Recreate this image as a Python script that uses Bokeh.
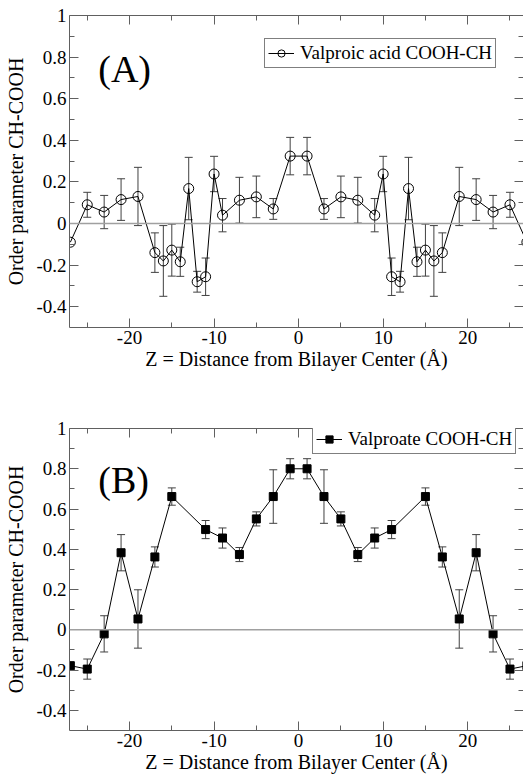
from bokeh.plotting import figure
from bokeh.models import (ColumnDataSource, Whisker, TeeHead, Span, Label, Legend, LegendItem,
                          LinearAxis, FixedTicker, PrintfTickFormatter, CustomJSTickFormatter,
                          Range1d)
from bokeh.layouts import column
from bokeh.embed import file_html
from bokeh.resources import INLINE

# ---------------- data ----------------
z_acid = [-27, -25, -23, -21, -19, -17, -16, -15, -14, -13, -12, -11, -10, -9, -7, -5, -3, -1,
          1, 3, 5, 7, 9, 10, 11, 12, 13, 14, 15, 16, 17, 19, 21, 23, 25, 27]
s_acid = [-0.09, 0.09, 0.055, 0.115, 0.13, -0.14, -0.18, -0.128, -0.184, 0.168, -0.28, -0.256,
          0.238, 0.04, 0.112, 0.128, 0.07, 0.324,
          0.324, 0.07, 0.128, 0.112, 0.04, 0.238, -0.256, -0.28, 0.168, -0.184, -0.128, -0.18,
          -0.14, 0.13, 0.115, 0.055, 0.09, -0.09]
e_acid = [0.0, 0.06, 0.08, 0.10, 0.14, 0.095, 0.17, 0.125, 0.07, 0.15, 0.05, 0.09,
          0.085, 0.08, 0.11, 0.10, 0.05, 0.09,
          0.09, 0.05, 0.10, 0.11, 0.08, 0.085, 0.09, 0.05, 0.15, 0.07, 0.125, 0.17,
          0.095, 0.14, 0.10, 0.08, 0.06, 0.0]

z_ion = [-27, -25, -23, -21, -19, -17, -15, -11, -9, -7, -5, -3, -1,
         1, 3, 5, 7, 9, 11, 15, 17, 19, 21, 23, 25, 27]
s_ion = [-0.178, -0.195, -0.02, 0.383, 0.054, 0.362, 0.662, 0.498, 0.456, 0.374, 0.551, 0.662, 0.80,
         0.80, 0.662, 0.551, 0.374, 0.456, 0.498, 0.662, 0.362, 0.054, 0.383, -0.02, -0.195, -0.178]
e_ion = [0.0, 0.05, 0.09, 0.09, 0.145, 0.05, 0.043, 0.045, 0.05, 0.035, 0.035, 0.133, 0.05,
         0.05, 0.133, 0.035, 0.035, 0.05, 0.045, 0.043, 0.05, 0.145, 0.09, 0.09, 0.05, 0.0]

x_ticks = [-20, -10, 0, 10, 20]
x_minor = [-25, -15, -5, 5, 15, 25]
y_ticks = [-0.4, -0.2, 0, 0.2, 0.4, 0.6, 0.8, 1]
y_minor = [-0.3, -0.1, 0.1, 0.3, 0.5, 0.7, 0.9]

x_title = "Z = Distance from Bilayer Center (Å)"
y_title = "Order parameter CH-COOH"

FONT = "Times New Roman"
AXC = "#606060"


def style_axis(ax, ticks, minor, labels=True):
    ax.ticker = FixedTicker(ticks=ticks, minor_ticks=minor)
    ax.major_tick_in = 9
    ax.major_tick_out = 0
    ax.minor_tick_in = 5
    ax.minor_tick_out = 0
    ax.axis_line_color = AXC
    ax.major_tick_line_color = AXC
    ax.minor_tick_line_color = AXC
    ax.major_label_text_font = FONT
    ax.major_label_text_color = "black"
    ax.axis_label_text_font = FONT
    ax.axis_label_text_font_style = "normal"
    ax.axis_label_text_color = "black"
    if labels:
        ax.formatter = PrintfTickFormatter(format="%g")
        ax.major_label_text_font_size = "19px"
        ax.axis_label_text_font_size = "20px"
        ax.major_label_standoff = 3
    else:
        ax.formatter = CustomJSTickFormatter(code="return ''")
        ax.major_label_text_font_size = "1px"
        ax.major_label_standoff = 0
        ax.axis_label = None


def panel(zs, vals, errs, label, tag, marker, height, btop, bbottom, legend_loc):
    p = figure(width=523, height=height, output_backend="svg", toolbar_location=None,
               x_range=Range1d(-27.1, 26.6), y_range=Range1d(-0.5, 1.0),
               min_border_left=69, min_border_right=0, min_border_top=btop,
               min_border_bottom=bbottom,
               x_axis_label=x_title, y_axis_label=y_title)
    p.grid.visible = False
    p.outline_line_color = None
    p.background_fill_color = "white"
    p.border_fill_color = "white"

    style_axis(p.xaxis[0], x_ticks, x_minor)
    style_axis(p.yaxis[0], y_ticks, y_minor)
    p.xaxis[0].axis_label_standoff = 1
    p.yaxis[0].axis_label_standoff = 6

    top = LinearAxis()
    style_axis(top, x_ticks, x_minor, labels=False)
    p.add_layout(top, "above")
    right = LinearAxis()
    style_axis(right, y_ticks, y_minor, labels=False)
    right.axis_line_alpha = 0
    p.add_layout(right, "right")

    p.add_layout(Span(location=0, dimension="width", line_color="#a0a0a0", line_width=1.5))

    idx = [i for i, e in enumerate(errs) if e > 0]
    esrc = ColumnDataSource(dict(z=[zs[i] for i in idx],
                                 lo=[vals[i] - errs[i] for i in idx],
                                 hi=[vals[i] + errs[i] for i in idx]))
    p.add_layout(Whisker(source=esrc, base="z", lower="lo", upper="hi",
                         line_color="#404040", line_width=1,
                         upper_head=TeeHead(size=8, line_color="#404040", line_width=1),
                         lower_head=TeeHead(size=8, line_color="#404040", line_width=1)))

    src = ColumnDataSource(dict(z=zs, v=vals))
    ln = p.line("z", "v", source=src, line_color="black", line_width=1)
    if marker == "circle":
        sc = p.scatter("z", "v", source=src, marker="circle", size=10, fill_color=None,
                       line_color="black", line_width=1)
    else:
        sc = p.scatter("z", "v", source=src, marker="square", size=8, fill_color="black",
                       line_color="black", line_width=1)

    lg = Legend(items=[LegendItem(label=label, renderers=[ln, sc])], location=legend_loc,
                label_text_font=FONT, label_text_font_size="19px", label_text_color="black",
                border_line_color="black", border_line_width=1, padding=3, spacing=0,
                margin=0, glyph_width=26, glyph_height=18, label_height=18, label_standoff=6,
                background_fill_color="white", background_fill_alpha=1)
    p.add_layout(lg)

    p.add_layout(Label(x=-23.7, y=0.745, text=tag, text_font=FONT, text_font_size="38px",
                       text_baseline="alphabetic", text_color="black"))
    return p


pa = panel(z_acid, s_acid, e_acid, "Valproic acid COOH-CH", "(A)", "circle",
           390, 15, 63, (195, 259))
pb = panel(z_ion, s_ion, e_ion, "Valproate COOH-CH", "(B)", "square",
           385, 38, 42, (243, 276))

layout = column(pa, pb, spacing=0)
open("out.html", "w").write(file_html(layout, INLINE))
